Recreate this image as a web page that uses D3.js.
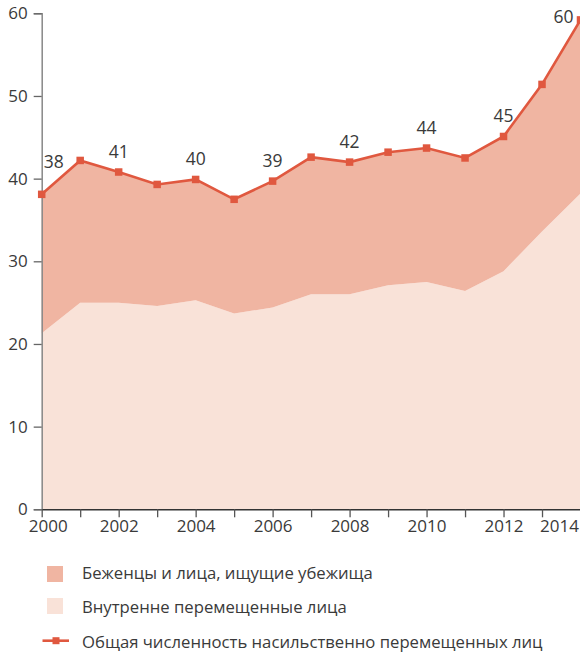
<!DOCTYPE html>
<html>
<head>
<meta charset="utf-8">
<script src="https://cdn.jsdelivr.net/npm/d3@7"></script>
<style>
  html, body { margin: 0; padding: 0; background: #fff; }
  svg { display: block; font-family: "Open Sans", "Noto Sans", sans-serif; }
</style>
</head>
<body>
<svg id="chart" width="580" height="653"></svg>
<script>
// ---- data ----
const years = [2000, 2001, 2002, 2003, 2004, 2005, 2006, 2007, 2008, 2009, 2010, 2011, 2012, 2013, 2014];
const idp = [21.3, 25.0, 25.0, 24.6, 25.3, 23.7, 24.4, 26.0, 26.0, 27.1, 27.5, 26.4, 28.8, 33.6, 38.2];
const total = [38.1, 42.2, 40.8, 39.3, 39.9, 37.5, 39.7, 42.6, 42.0, 43.2, 43.7, 42.5, 45.1, 51.4, 59.2];
const labelYears = [2000, 2002, 2004, 2006, 2008, 2010, 2012, 2014];
const labelTexts = ["38", "41", "40", "39", "42", "44", "45", "60"];
const yTicks = [0, 10, 20, 30, 40, 50, 60];
const xTickLabels = ["2000", "2002", "2004", "2006", "2008", "2010", "2012", "2014"];
const legendNames = ["Беженцы и лица, ищущие убежища", "Внутренне перемещенные лица", "Общая численность насильственно перемещенных лиц"];

// ---- style ----
const cRef = "#f0b5a2", cIdp = "#f9e2d8", cLine = "#e0583f", cText = "#3a3a3a";
const fw = 400;

const svg = d3.select("#chart");
const x = d3.scaleLinear().domain([2000, 2014]).range([41.7, 580.5]);
const y = d3.scaleLinear().domain([0, 60]).range([509.3, 13.3]);

const rows = years.map((yr, i) => ({ year: yr, idp: idp[i], total: total[i] }));

// areas
svg.append("path").datum(rows)
  .attr("fill", cIdp)
  .attr("d", d3.area().x(d => x(d.year)).y0(y(0)).y1(d => y(d.idp)));
svg.append("path").datum(rows)
  .attr("fill", cRef)
  .attr("d", d3.area().x(d => x(d.year)).y0(d => y(d.idp)).y1(d => y(d.total)));

// y axis
const yAxis = svg.append("g").attr("transform", `translate(${x(2000)},0)`)
  .call(d3.axisLeft(y).tickValues(yTicks).tickSize(8).tickPadding(6));
yAxis.select(".domain").attr("stroke", "#888").attr("stroke-width", 1.5);
yAxis.selectAll(".tick line").attr("stroke", "#666").attr("stroke-width", 1.3);
yAxis.selectAll(".tick text").attr("fill", cText).style("font-size", "17px")
  .style("font-weight", fw).style("font-family", "'Open Sans', sans-serif");

// x axis
const xAxis = svg.append("g").attr("transform", `translate(0,${y(0)})`)
  .call(d3.axisBottom(x).tickValues(years).tickSize(8).tickSizeOuter(0)
    .tickFormat(d => xTickLabels.includes(String(d)) ? String(d) : ""));
xAxis.select(".domain").attr("stroke", "#333").attr("stroke-width", 1.5);
xAxis.selectAll(".tick line").attr("stroke", "#555").attr("stroke-width", 1.3);
xAxis.selectAll(".tick text").attr("fill", cText).style("font-size", "17px")
  .style("font-weight", fw).style("font-family", "'Open Sans', sans-serif")
  .attr("y", 11)
  .attr("text-anchor", d => d === 2014 ? "end" : "middle")
  .attr("dx", d => d === 2000 ? 6 : 0);
xAxis.selectAll(".tick").filter(d => d === 2014).select("text").attr("dx", -2);

// line
svg.append("path").datum(rows)
  .attr("fill", "none").attr("stroke", cLine).attr("stroke-width", 2.6)
  .attr("d", d3.line().x(d => x(d.year)).y(d => y(d.total)));

// markers
const ms = 7.5;
svg.append("g").selectAll("rect").data(rows).join("rect")
  .attr("x", d => x(d.year) - ms / 2).attr("y", d => y(d.total) - ms / 2)
  .attr("width", ms).attr("height", ms).attr("fill", cLine);

// data labels
svg.append("g").selectAll("text").data(labelYears).join("text")
  .attr("x", (d, i) => x(d) + (i === 0 ? 12 : (i === labelYears.length - 1 ? -7 : 0)))
  .attr("y", (d, i) => {
    const v = total[years.indexOf(d)];
    if (i === 0) return y(v) - 26;
    if (i === labelYears.length - 1) return y(v) + 3;
    return y(v) - 14.5;
  })
  .attr("text-anchor", (d, i) => i === labelYears.length - 1 ? "end" : "middle")
  .attr("fill", cText).style("font-size", "17.5px").style("font-weight", fw)
  .text((d, i) => labelTexts[i]);

// legend
const lg = svg.append("g");
lg.append("rect").attr("x", 47).attr("y", 566).attr("width", 16).attr("height", 16).attr("fill", cRef);
lg.append("rect").attr("x", 47).attr("y", 598).attr("width", 16).attr("height", 16).attr("fill", cIdp);
lg.append("line").attr("x1", 42.5).attr("x2", 69).attr("y1", 640.7).attr("y2", 640.7)
  .attr("stroke", cLine).attr("stroke-width", 2.6);
lg.append("rect").attr("x", 56 - 3.5).attr("y", 640.7 - 3.5).attr("width", 7).attr("height", 7).attr("fill", cLine);
const ly = [579.3, 613.3, 648.3];
lg.selectAll("text").data(legendNames).join("text")
  .attr("x", 82).attr("y", (d, i) => ly[i])
  .attr("fill", cText).style("font-size", "16.7px").style("font-weight", fw)
  .text(d => d);
</script>
</body>
</html>
